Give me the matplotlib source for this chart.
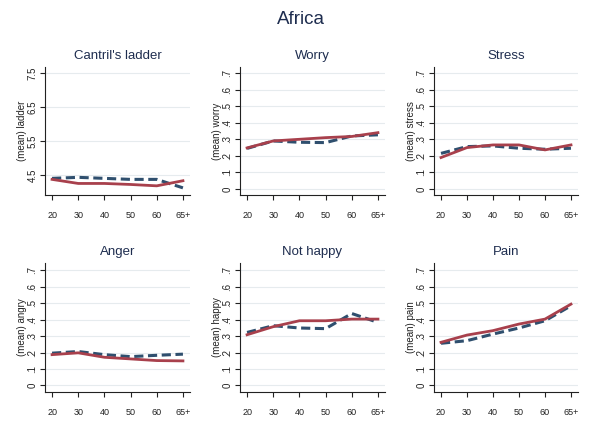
import matplotlib
matplotlib.use("Agg")
import matplotlib.pyplot as plt

plt.rcParams['font.family'] = ['Liberation Sans', 'DejaVu Sans']

age_labels = ["20", "30", "40", "50", "60", "65+"]
x = list(range(len(age_labels)))

titles = ["Cantril's ladder", "Worry", "Stress", "Anger", "Not happy", "Pain"]
ylabels = ["(mean) ladder", "(mean) worry", "(mean) stress",
           "(mean) angry", "(mean) happy", "(mean) pain"]

ladder_solid = [4.37, 4.25, 4.25, 4.22, 4.18, 4.33]
ladder_dash = [4.40, 4.43, 4.40, 4.37, 4.37, 4.12]
worry_solid = [0.248, 0.290, 0.300, 0.310, 0.317, 0.340]
worry_dash = [0.245, 0.290, 0.282, 0.280, 0.320, 0.327]
stress_solid = [0.190, 0.250, 0.266, 0.266, 0.236, 0.266]
stress_dash = [0.215, 0.256, 0.260, 0.246, 0.240, 0.246]
anger_solid = [0.187, 0.198, 0.171, 0.161, 0.151, 0.149]
anger_dash = [0.196, 0.206, 0.187, 0.175, 0.183, 0.190]
nothappy_solid = [0.308, 0.357, 0.393, 0.393, 0.403, 0.403]
nothappy_dash = [0.322, 0.363, 0.349, 0.345, 0.437, 0.383]
pain_solid = [0.262, 0.306, 0.333, 0.373, 0.403, 0.494]
pain_dash = [0.256, 0.272, 0.312, 0.349, 0.393, 0.484]

solids = [ladder_solid, worry_solid, stress_solid, anger_solid, nothappy_solid, pain_solid]
dashes = [ladder_dash, worry_dash, stress_dash, anger_dash, nothappy_dash, pain_dash]

ladder_ticks = [4.5, 5.5, 6.5, 7.5]
ladder_ticklabels = ["4.5", "5.5", "6.5", "7.5"]
prop_ticks = [0, 0.1, 0.2, 0.3, 0.4, 0.5, 0.6, 0.7]
prop_ticklabels = ["0", ".1", ".2", ".3", ".4", ".5", ".6", ".7"]

W, H = 601, 438
fig = plt.figure(figsize=(W / 100, H / 100), dpi=100)
fig.patch.set_facecolor("white")

# pixel boxes: left, right, top, bottom
lefts = [45, 240, 434]
rights = [190, 385, 578]
rows = [(67, 195), (263, 392)]

ylims = [(3.91, 7.68), (-0.036, 0.736), (-0.036, 0.736),
         (-0.04, 0.744), (-0.04, 0.744), (-0.04, 0.744)]

title_col = "#1e2d4f"
red = "#a8404c"
navy = "#2f4f6e"

for i in range(6):
    r, c = divmod(i, 3)
    top, bot = rows[r]
    l, rr = lefts[c], rights[c]
    ax = fig.add_axes([l / W, 1 - bot / H, (rr - l) / W, (bot - top) / H])
    ax.plot(x, dashes[i], color=navy, lw=2.2, ls=(0, (3.0, 1.5)), zorder=3)
    ax.plot(x, solids[i], color=red, lw=2.0, zorder=4)
    ax.set_xlim(-0.27, 5.27)
    ax.set_ylim(*ylims[i])
    ax.set_xticks(x)
    ax.set_xticklabels(age_labels)
    if i == 0:
        ax.set_yticks(ladder_ticks)
        ax.set_yticklabels(ladder_ticklabels, rotation=90, va="center")
    else:
        ax.set_yticks(prop_ticks)
        ax.set_yticklabels(prop_ticklabels, rotation=90, va="center")
    ax.grid(axis="y", color="#e6ebee", lw=0.8)
    ax.set_axisbelow(True)
    for s in ["top", "right"]:
        ax.spines[s].set_visible(False)
    for s in ["left", "bottom"]:
        ax.spines[s].set_color("#222222")
        ax.spines[s].set_linewidth(0.8)
    ax.tick_params(axis="x", length=3.5, width=0.8, pad=8, labelsize=6.5, colors="#222222")
    ax.tick_params(axis="y", length=3.5, width=0.8, pad=2, labelsize=7, colors="#222222")
    ax.set_title(titles[i], fontsize=9.5, color=title_col, pad=6)
    ax.set_ylabel(ylabels[i], fontsize=7, color="#222222", labelpad=0)

fig.text(0.5, 1 - 20 / H, "Africa", ha="center", va="center", fontsize=13.5, color=title_col)

fig.savefig("out.png", dpi=100, facecolor="white")
